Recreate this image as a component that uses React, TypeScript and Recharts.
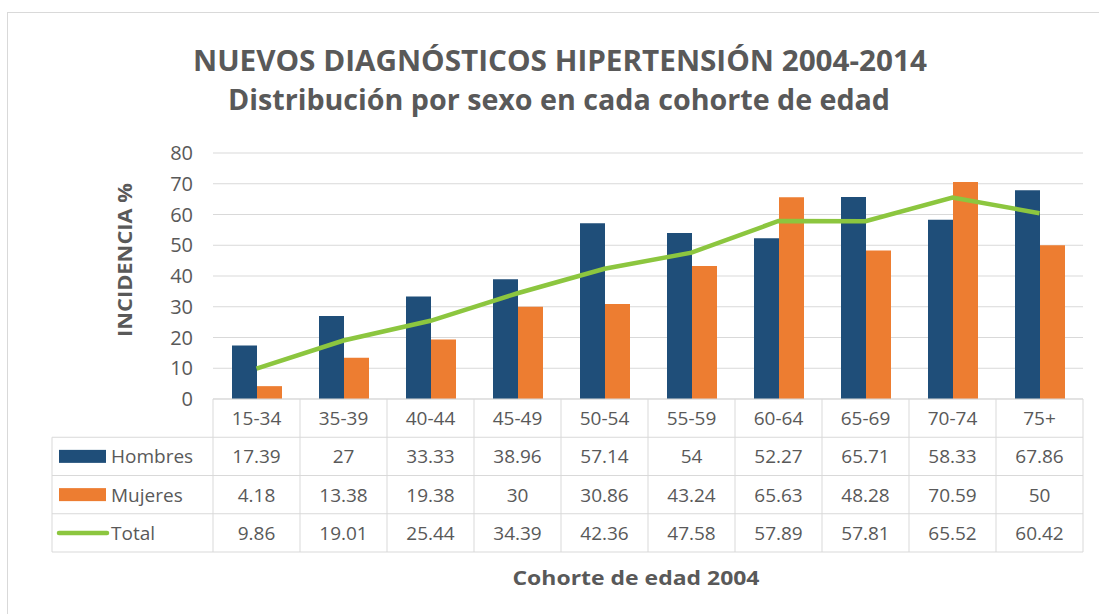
import React from 'react';
import { ComposedChart, Bar, Line, XAxis, YAxis, CartesianGrid } from 'recharts';

const categories = ['15-34', '35-39', '40-44', '45-49', '50-54', '55-59', '60-64', '65-69', '70-74', '75+'];
const hombres = [17.39, 27, 33.33, 38.96, 57.14, 54, 52.27, 65.71, 58.33, 67.86];
const mujeres = [4.18, 13.38, 19.38, 30, 30.86, 43.24, 65.63, 48.28, 70.59, 50];
const total = [9.86, 19.01, 25.44, 34.39, 42.36, 47.58, 57.89, 57.81, 65.52, 60.42];
const yTicks = [0, 10, 20, 30, 40, 50, 60, 70, 80];
const seriesNames = ['Hombres', 'Mujeres', 'Total'];
const titleLine1 = 'NUEVOS DIAGNÓSTICOS HIPERTENSIÓN 2004-2014';
const titleLine2 = 'Distribución por sexo en cada cohorte de edad';
const yLabel = 'INCIDENCIA %';
const xLabel = 'Cohorte de edad 2004';

const BLUE = '#1F4E79';
const ORANGE = '#ED7D31';
const GREEN = '#8CC63F';
const TEXT = '#595959';
const BORDER = '#D9D9D9';
const FONT = "'Open Sans', sans-serif";

const data = categories.map((c, i) => ({
  cat: c,
  hombres: hombres[i],
  mujeres: mujeres[i],
  total: total[i],
}));

const seriesValues = [hombres, mujeres, total];

const COL_W = 87;
const ROW_H = 38.25;
const LEGEND_W = 161;

function TableTick(props: any) {
  const { x, y, payload } = props;
  const index = payload && payload.index !== undefined ? payload.index : props.index;
  const left = x - COL_W / 2;
  const right = x + COL_W / 2;
  const els: React.ReactNode[] = [];
  els.push(<line key="vr" x1={right} y1={y} x2={right} y2={y + 4 * ROW_H} stroke={BORDER} />);
  for (let r = 1; r <= 4; r++) {
    els.push(<line key={'h' + r} x1={left} y1={y + r * ROW_H} x2={right} y2={y + r * ROW_H} stroke={BORDER} />);
  }
  els.push(
    <text key="cat" x={x} y={y + ROW_H / 2} textAnchor="middle" dominantBaseline="central" fill={TEXT} fontSize={19} fontFamily={FONT}>
      {payload.value}
    </text>
  );
  seriesValues.forEach((arr, s) => {
    els.push(
      <text key={'v' + s} x={x} y={y + (s + 1.5) * ROW_H} textAnchor="middle" dominantBaseline="central" fill={TEXT} fontSize={19} fontFamily={FONT}>
        {String(arr[index])}
      </text>
    );
  });
  if (index === 0) {
    const lx = left - LEGEND_W;
    els.push(<line key="vl" x1={left} y1={y} x2={left} y2={y + 4 * ROW_H} stroke={BORDER} />);
    els.push(<line key="vll" x1={lx} y1={y + ROW_H} x2={lx} y2={y + 4 * ROW_H} stroke={BORDER} />);
    for (let r = 1; r <= 4; r++) {
      els.push(<line key={'lh' + r} x1={lx} y1={y + r * ROW_H} x2={left} y2={y + r * ROW_H} stroke={BORDER} />);
    }
    seriesNames.forEach((name, s) => {
      const cy = y + (s + 1.5) * ROW_H;
      if (s < 2) {
        els.push(<rect key={'sw' + s} x={lx + 7} y={cy - 6.5} width={47} height={13} fill={s === 0 ? BLUE : ORANGE} />);
      } else {
        els.push(<line key="swl" x1={lx + 7} y1={cy} x2={lx + 55} y2={cy} stroke={GREEN} strokeWidth={4.5} strokeLinecap="round" />);
      }
      els.push(
        <text key={'ln' + s} x={lx + 59} y={cy} textAnchor="start" dominantBaseline="central" fill={TEXT} fontSize={19} fontFamily={FONT}>
          {name}
        </text>
      );
    });
  }
  return <g>{els}</g>;
}

export default function App() {
  return (
    <div style={{ position: 'absolute', left: 0, top: 0, width: 1099, height: 614, background: '#fff', overflow: 'hidden' }}>
      <ComposedChart
        width={1099}
        height={614}
        data={data}
        margin={{ top: 153, right: 16, left: 153, bottom: 60 }}
        barGap={0}
      >
        <CartesianGrid vertical={false} stroke={BORDER} />
        <XAxis
          dataKey="cat"
          height={155}
          axisLine={{ stroke: BORDER }}
          tickLine={false}
          tickSize={0}
          tickMargin={0}
          interval={0}
          tick={(p: any) => <TableTick {...p} />}
        />
        <YAxis
          width={60}
          domain={[0, 80]}
          ticks={yTicks}
          axisLine={false}
          tickLine={false}
          tickSize={0}
          tickMargin={20}
          tick={{ fill: TEXT, fontSize: 20, fontFamily: FONT }}
        />
        <Bar dataKey="hombres" fill={BLUE} barSize={25} isAnimationActive={false} />
        <Bar dataKey="mujeres" fill={ORANGE} barSize={25} isAnimationActive={false} />
        <Line dataKey="total" type="linear" stroke={GREEN} strokeWidth={4.5} dot={false} activeDot={false} isAnimationActive={false} />
      </ComposedChart>
      <svg width={1099} height={614} style={{ position: 'absolute', left: 0, top: 0, pointerEvents: 'none' }}>
        <rect x={7.5} y={12.5} width={1200} height={700} fill="none" stroke={BORDER} />
        <text x={560} y={71} textAnchor="middle" fill={TEXT} fontSize={28} fontWeight="bold" fontFamily={FONT} textLength={734} lengthAdjust="spacingAndGlyphs">
          {titleLine1}
        </text>
        <text x={559} y={110} textAnchor="middle" fill={TEXT} fontSize={28} fontWeight="bold" fontFamily={FONT} textLength={662} lengthAdjust="spacingAndGlyphs">
          {titleLine2}
        </text>
        <text x={0} y={0} transform="translate(132,260) rotate(-90)" textAnchor="middle" fill={TEXT} fontSize={20} fontWeight="bold" fontFamily={FONT} textLength={154} lengthAdjust="spacingAndGlyphs">
          {yLabel}
        </text>
        <text x={636} y={585} textAnchor="middle" fill={TEXT} fontSize={19} fontWeight="bold" fontFamily={FONT} textLength={247} lengthAdjust="spacingAndGlyphs">
          {xLabel}
        </text>
      </svg>
    </div>
  );
}
